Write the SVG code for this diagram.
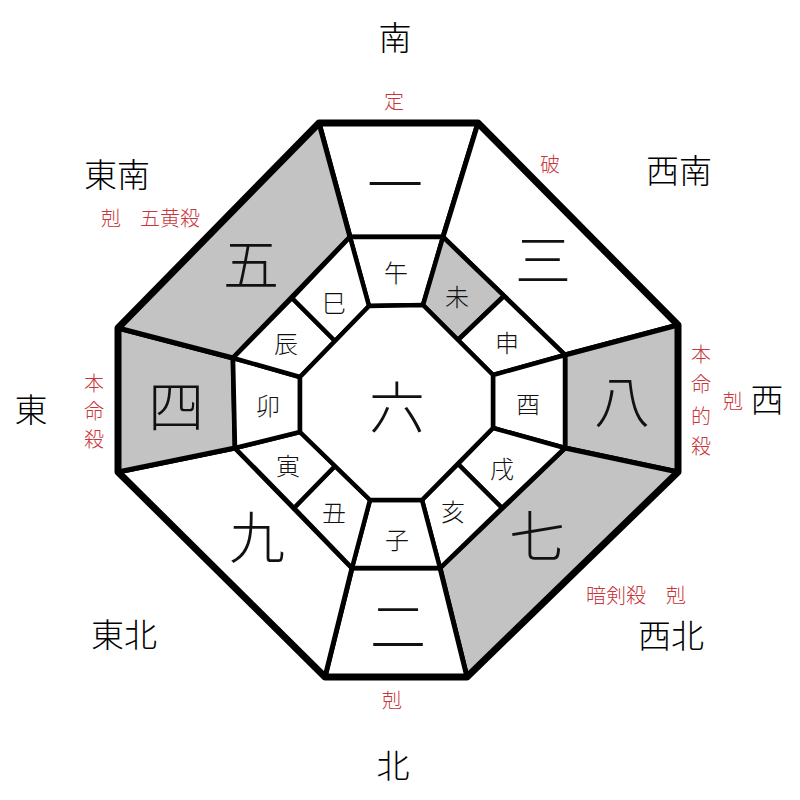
<svg xmlns="http://www.w3.org/2000/svg" width="800" height="800" viewBox="0 0 800 800">
<style>
.p{stroke:#000;stroke-width:5;stroke-linejoin:round}
.w{fill:#fff}
.g{fill:#c3c3c3}
.z{stroke:#000;stroke-width:4.5;stroke-linejoin:round}
text{font-family:"Noto Sans CJK JP","Noto Sans CJK SC",sans-serif;text-anchor:middle;dominant-baseline:central;font-weight:300}
.big{font-size:56px;fill:#111}
.zd{font-size:24px;fill:#111}
.dir{font-size:33px;fill:#000}
.red{font-size:20px;fill:#c8363c}
</style>
<rect width="800" height="800" fill="#fff"/>
<g id="palaces">
<g id="p1"><polygon class="p w" points="319,123 478,123 443,237 350,237"/><text class="big" x="395" y="180">一</text></g>
<g id="p3"><polygon class="p w" points="478,123 678,325 565,355 443,237"/><text class="big" x="543" y="256">三</text></g>
<g id="p8"><polygon class="p g" points="678,325 678,472 565,448 565,355"/><text class="big" x="622" y="397">八</text></g>
<g id="p7"><polygon class="p g" points="678,472 467,677 440,568 565,448"/><text class="big" x="537" y="532">七</text></g>
<g id="p2"><polygon class="p w" points="467,677 325,677 352,568 440,568"/><text class="big" x="398" y="622">二</text></g>
<g id="p9"><polygon class="p w" points="325,677 118,472 235,448 352,568"/><text class="big" x="257" y="533">九</text></g>
<g id="p4"><polygon class="p g" points="118,472 118,328 233,358 235,448"/><text class="big" x="176" y="402">四</text></g>
<g id="p5"><polygon class="p g" points="118,328 319,123 350,237 233,358"/><text class="big" x="251" y="260">五</text></g>
</g>
<g id="zodiac">
<g id="z-uma"><polygon class="z w" points="350,237 443,237 423,305 369,306"/><text class="zd" x="396" y="271">午</text></g>
<g id="z-hitsuji"><polygon class="z g" points="443,237 504,296 458,340 423,305"/><text class="zd" x="457" y="295">未</text></g>
<g id="z-saru"><polygon class="z w" points="504,296 565,355 493,375 458,340"/><text class="zd" x="507" y="341">申</text></g>
<g id="z-tori"><polygon class="z w" points="565,355 565,448 493,428 493,375"/><text class="zd" x="528" y="402">酉</text></g>
<g id="z-inu"><polygon class="z w" points="565,448 502,508 458,464 493,428"/><text class="zd" x="502" y="467">戌</text></g>
<g id="z-i"><polygon class="z w" points="502,508 440,568 422,500 458,464"/><text class="zd" x="453" y="510">亥</text></g>
<g id="z-ne"><polygon class="z w" points="440,568 352,568 370,500 422,500"/><text class="zd" x="397" y="538">子</text></g>
<g id="z-ushi"><polygon class="z w" points="352,568 294,508 335,466 370,500"/><text class="zd" x="334" y="511">丑</text></g>
<g id="z-tora"><polygon class="z w" points="294,508 235,448 300,432 335,466"/><text class="zd" x="288" y="464">寅</text></g>
<g id="z-u"><polygon class="z w" points="235,448 233,358 300,377 300,432"/><text class="zd" x="268" y="404">卯</text></g>
<g id="z-tatsu"><polygon class="z w" points="233,358 292,298 335,341 300,377"/><text class="zd" x="286" y="342">辰</text></g>
<g id="z-mi"><polygon class="z w" points="292,298 350,237 369,306 335,341"/><text class="zd" x="334" y="301">巳</text></g>
</g>
<g id="center"><polygon class="z w" points="369,306 423,305 493,375 493,428 422,500 370,500 300,432 300,377"/><text class="big" x="397" y="403">六</text></g>
<g id="outline"><polygon points="319,123 478,123 678,325 678,472 467,677 325,677 118,472 118,328" fill="none" stroke="#000" stroke-width="7" stroke-linejoin="round"/></g>
<g id="labels">
<text class="dir" x="395" y="36">南</text>
<text class="red" x="394" y="100">定</text>
<text class="red" x="550" y="163">破</text>
<text class="dir" x="679" y="169">西南</text>
<text class="dir" x="117" y="173">東南</text>
<text class="red" x="111" y="217">剋</text>
<text class="red" x="170" y="217">五黄殺</text>
<text class="dir" x="31" y="408">東</text>
<text class="red" x="94" y="382">本</text>
<text class="red" x="94" y="410">命</text>
<text class="red" x="94" y="438">殺</text>
<text class="dir" x="767" y="398">西</text>
<text class="red" x="701" y="353">本</text>
<text class="red" x="701" y="383">命</text>
<text class="red" x="701" y="415">的</text>
<text class="red" x="701" y="445">殺</text>
<text class="red" x="733" y="400">剋</text>
<text class="red" x="616" y="594">暗剣殺</text>
<text class="red" x="676" y="594">剋</text>
<text class="dir" x="671" y="634">西北</text>
<text class="dir" x="124" y="633">東北</text>
<text class="red" x="392" y="699">剋</text>
<text class="dir" x="393" y="764">北</text>
</g>
</svg>
